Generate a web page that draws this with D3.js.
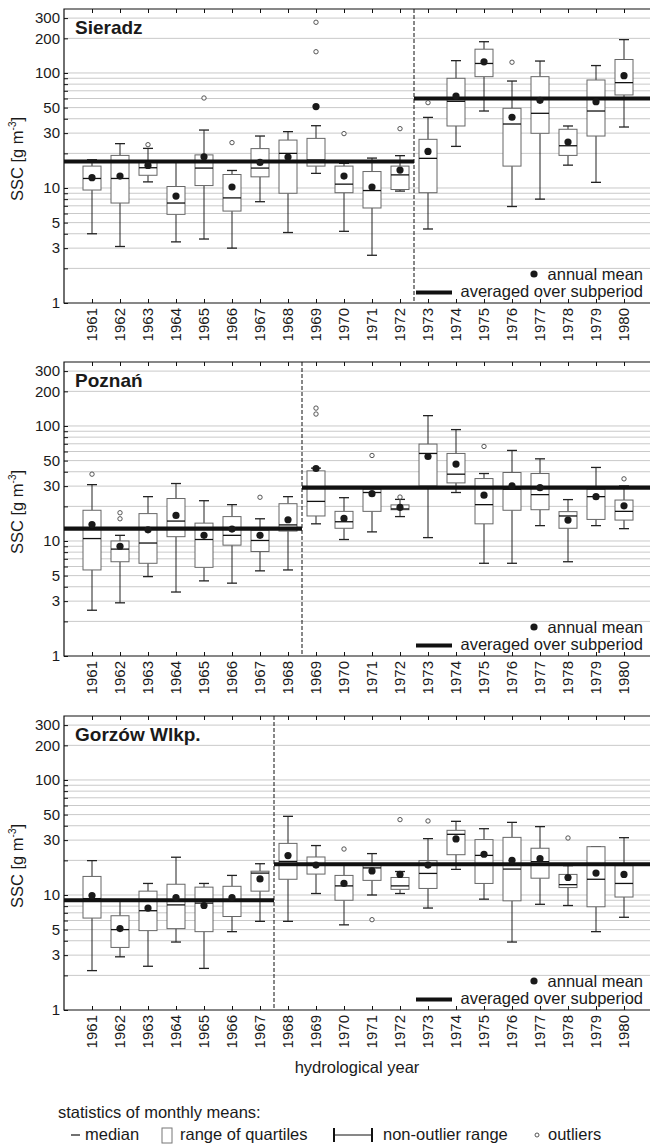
<!DOCTYPE html>
<html><head><meta charset="utf-8">
<script src="https://cdn.jsdelivr.net/npm/d3@7"></script>
<style>
body{margin:0;background:#fff}
svg{display:block}
text{font-family:"Liberation Sans",Arial,Helvetica,sans-serif;fill:#1a1a1a}
</style>
</head><body>
<svg id="c" width="650" height="1144"></svg>
<script>
// ---------- data ----------
const years = [1961,1962,1963,1964,1965,1966,1967,1968,1969,1970,1971,1972,1973,1974,1975,1976,1977,1978,1979,1980];
const yTickLabels = [1,3,5,10,30,50,100,200,300];
const gridValues = [2,3,4,5,6,7,8,9,10,20,30,40,50,60,70,80,90,100,200,300];
const stationNames = ["Sieradz","Poznań","Gorzów Wlkp."];

// Sieradz
const sieradzLow  = [4.0,3.1,11.3,3.4,3.6,3.0,7.6,4.1,13.4,4.2,2.6,9.4,4.4,23.0,46.7,6.9,8.0,15.8,11.2,33.9];
const sieradzQ1   = [9.6,7.4,12.9,5.9,10.5,6.3,12.5,9.0,15.5,9.1,6.7,9.7,9.1,34.6,92.9,15.5,29.9,19.2,28.3,64.4];
const sieradzMed  = [12.1,12.1,15.0,7.4,14.9,8.2,14.9,20.0,17.5,10.8,9.5,13.0,18.1,56.7,121,36.0,44.6,23.3,46.7,82.4];
const sieradzQ3   = [15.5,19.2,16.7,10.3,19.4,13.1,22.0,26.1,27.0,15.5,13.9,15.5,26.5,89.9,161,49.3,92.9,32.4,86.9,131];
const sieradzHigh = [17.6,24.3,22.1,16.9,31.9,14.2,28.3,30.9,34.8,16.4,18.2,19.1,41.1,128,187,85.1,127,34.6,116,195];
const sieradzMean = [12.3,12.7,15.7,8.5,18.7,10.2,16.7,18.6,51.0,12.7,10.2,14.3,20.8,63.1,125,41.2,57.8,25.1,56.3,94.8];
const sieradzOutliers = [[1963,23.8],[1965,60.6],[1966,24.8],[1969,276],[1969,153],[1970,29.7],[1972,32.8],[1973,55.2],[1976,124]];
const sieradzSplit = 1972.5;
const sieradzSubMeans = [17.0,60.0];

// Poznań
const poznanLow  = [2.5,2.9,4.9,3.6,4.5,4.3,5.5,5.6,14.1,10.3,12.0,16.3,10.7,26.4,6.4,6.4,13.6,6.6,13.6,12.8];
const poznanQ1   = [5.6,6.6,6.4,10.9,5.9,9.2,8.1,12.2,16.5,12.9,18.1,18.7,30.1,32.0,14.1,18.5,18.7,12.9,15.4,15.2];
const poznanMed  = [10.5,8.5,9.6,14.9,10.3,11.2,10.1,13.8,22.1,14.7,26.4,19.0,57.7,38.1,20.7,28.2,25.3,16.5,24.3,18.1];
const poznanQ3   = [18.5,10.0,17.3,23.4,14.3,16.3,12.4,21.1,40.7,18.1,28.2,20.6,69.6,57.7,34.9,39.4,38.6,18.0,28.2,22.7];
const poznanHigh = [30.9,11.2,24.3,31.6,22.4,20.7,15.6,24.3,43.0,23.8,29.1,23.0,123,93,38.6,61.3,51.8,22.9,43.6,30.1];
const poznanMean = [13.9,9.0,12.5,16.7,11.2,12.7,11.2,15.3,42.7,15.7,25.8,19.6,54.3,46.6,25.0,30.1,29.1,15.2,24.3,20.2];
const poznanOutliers = [[1961,38.1],[1962,17.6],[1962,15.6],[1967,24.0],[1969,143],[1969,127],[1971,55.4],[1972,24.1],[1975,66.4],[1980,34.7]];
const poznanSplit = 1968.5;
const poznanSubMeans = [12.8,29.1];

// Gorzów Wlkp.
const gorzowLow  = [2.2,2.9,2.4,3.9,2.3,4.8,5.9,5.9,10.3,5.5,10.0,10.3,7.7,16.7,9.2,3.9,8.3,8.1,4.8,6.4];
const gorzowQ1   = [6.3,3.5,4.9,5.1,4.8,6.5,10.8,13.7,15.2,9.0,13.4,11.2,11.4,22.4,12.6,8.9,14.0,11.6,7.9,9.6];
const gorzowMed  = [9.3,5.0,7.3,8.2,8.5,9.0,15.5,19.6,18.2,12.0,17.2,12.0,15.4,33.7,22.1,16.8,19.5,12.3,13.7,12.6];
const gorzowQ3   = [14.5,6.6,10.8,12.4,11.7,11.9,16.1,28.1,21.4,14.8,18.0,14.2,19.9,36.5,30.3,31.7,25.5,15.1,26.3,18.0];
const gorzowHigh = [19.9,9.0,12.6,21.3,12.6,14.8,18.7,48.3,26.9,18.2,22.9,16.0,30.9,43.7,37.7,42.8,39.3,18.0,26.3,31.5];
const gorzowMean = [9.9,5.1,7.7,9.5,8.1,9.5,13.8,22.0,18.2,12.6,16.2,15.1,18.2,30.7,22.6,20.0,20.7,14.2,15.5,15.1];
const gorzowOutliers = [[1970,25.1],[1971,6.1],[1972,45.2],[1973,44.0],[1978,31.3]];
const gorzowSplit = 1967.5;
const gorzowSubMeans = [9.0,18.5];

// ---------- build ----------
const stations = [
  {name:stationNames[0], low:sieradzLow, q1:sieradzQ1, med:sieradzMed, q3:sieradzQ3, high:sieradzHigh, mean:sieradzMean, out:sieradzOutliers, split:sieradzSplit, sub:sieradzSubMeans},
  {name:stationNames[1], low:poznanLow, q1:poznanQ1, med:poznanMed, q3:poznanQ3, high:poznanHigh, mean:poznanMean, out:poznanOutliers, split:poznanSplit, sub:poznanSubMeans},
  {name:stationNames[2], low:gorzowLow, q1:gorzowQ1, med:gorzowMed, q3:gorzowQ3, high:gorzowHigh, mean:gorzowMean, out:gorzowOutliers, split:gorzowSplit, sub:gorzowSubMeans}
];

const svg = d3.select("#c");
const X0 = 64, X1 = 650, H = 294;
const bottoms = [303, 656, 1010];
const x = d3.scaleLinear().domain([1960, 1981]).range([64, 652]);
const boxW = 18, capW = 10;

stations.forEach((s, i) => {
  const b = bottoms[i], t = b - H;
  const y = d3.scaleLog().domain([1, 360]).range([b, t]);
  const g = svg.append("g");
  const rows = years.map((yr, k) => ({yr, low:s.low[k], q1:s.q1[k], med:s.med[k], q3:s.q3[k], high:s.high[k], mean:s.mean[k]}));

  // grid
  g.append("g").selectAll("line").data(gridValues).join("line")
    .attr("x1", X0).attr("x2", X1)
    .attr("y1", d => y(d)).attr("y2", d => y(d))
    .attr("stroke", "#c9c9c9").attr("stroke-width", 1);

  // whiskers
  const wg = g.append("g").attr("stroke", "#222").attr("stroke-width", 1);
  wg.selectAll("line.wl").data(rows).join("line").attr("class","wl")
    .attr("x1", d => x(d.yr)).attr("x2", d => x(d.yr))
    .attr("y1", d => y(d.low)).attr("y2", d => y(d.q1));
  wg.selectAll("line.wh").data(rows).join("line").attr("class","wh")
    .attr("x1", d => x(d.yr)).attr("x2", d => x(d.yr))
    .attr("y1", d => y(d.q3)).attr("y2", d => y(d.high));
  wg.selectAll("line.cl").data(rows).join("line").attr("class","cl")
    .attr("x1", d => x(d.yr) - capW/2).attr("x2", d => x(d.yr) + capW/2)
    .attr("y1", d => y(d.low)).attr("y2", d => y(d.low)).attr("stroke-width", 1.3);
  wg.selectAll("line.ch").data(rows).join("line").attr("class","ch")
    .attr("x1", d => x(d.yr) - capW/2).attr("x2", d => x(d.yr) + capW/2)
    .attr("y1", d => y(d.high)).attr("y2", d => y(d.high)).attr("stroke-width", 1.3);

  // boxes
  g.append("g").selectAll("rect").data(rows).join("rect")
    .attr("x", d => x(d.yr) - boxW/2).attr("width", boxW)
    .attr("y", d => y(d.q3)).attr("height", d => y(d.q1) - y(d.q3))
    .attr("fill", "#fff").attr("stroke", "#666").attr("stroke-width", 1);

  // medians
  g.append("g").selectAll("line").data(rows).join("line")
    .attr("x1", d => x(d.yr) - boxW/2).attr("x2", d => x(d.yr) + boxW/2)
    .attr("y1", d => y(d.med)).attr("y2", d => y(d.med))
    .attr("stroke", "#111").attr("stroke-width", 1.3);

  // subperiod means
  const subs = [{a:1960, b2:s.split, v:s.sub[0]}, {a:s.split, b2:1981, v:s.sub[1]}];
  g.append("g").selectAll("line").data(subs).join("line")
    .attr("x1", d => Math.max(X0, x(d.a))).attr("x2", d => Math.min(X1, x(d.b2)))
    .attr("y1", d => y(d.v)).attr("y2", d => y(d.v))
    .attr("stroke", "#111").attr("stroke-width", 4.2);

  // split dashed line
  g.append("line")
    .attr("x1", x(s.split)).attr("x2", x(s.split)).attr("y1", t).attr("y2", b)
    .attr("stroke", "#111").attr("stroke-width", 1).attr("stroke-dasharray", "4,2");

  // annual means
  g.append("g").selectAll("circle").data(rows).join("circle")
    .attr("cx", d => x(d.yr)).attr("cy", d => y(d.mean)).attr("r", 3.6)
    .attr("fill", "#1a1a1a");

  // outliers
  g.append("g").selectAll("circle").data(s.out).join("circle")
    .attr("cx", d => x(d[0])).attr("cy", d => y(d[1])).attr("r", 2.2)
    .attr("fill", "#fff").attr("stroke", "#444").attr("stroke-width", 0.9);

  // axes
  const yAxis = d3.axisLeft(y).tickValues([1].concat(gridValues)).tickSize(-4).tickPadding(4)
    .tickFormat(d => yTickLabels.includes(d) ? String(d) : "");
  const ya = g.append("g").attr("transform", `translate(${X0},0)`).call(yAxis);
  ya.select(".domain").remove();
  ya.selectAll("text").attr("font-size", 15).style("font-family", '"Liberation Sans",Arial,sans-serif').attr("fill", "#1a1a1a");
  ya.selectAll("line").attr("stroke", "#111");

  const xb = g.append("g").attr("transform", `translate(0,${b})`)
    .call(d3.axisBottom(x).tickValues(years).tickSize(-4).tickFormat(""));
  xb.select(".domain").remove();
  xb.selectAll("line").attr("stroke", "#111");
  const xt = g.append("g").attr("transform", `translate(0,${t})`)
    .call(d3.axisTop(x).tickValues(years).tickSize(-4).tickFormat(""));
  xt.select(".domain").remove();
  xt.selectAll("line").attr("stroke", "#111");

  // frame
  g.append("path")
    .attr("d", `M${X1},${t}H${X0}V${b}H${X1}`)
    .attr("fill", "none").attr("stroke", "#111").attr("stroke-width", 1.2);

  // year labels
  g.append("g").selectAll("text").data(years).join("text")
    .attr("transform", d => `translate(${x(d)},${b + 5}) rotate(-90)`)
    .attr("text-anchor", "end").attr("dy", "0.35em")
    .attr("font-size", 15).text(d => d);

  // station title
  g.append("text").attr("x", 75).attr("y", t + 25)
    .attr("font-size", 19).attr("font-weight", "bold").text(s.name);

  // y axis title
  const yt = g.append("text")
    .attr("transform", `translate(23,${(t + b) / 2 + 3}) rotate(-90)`)
    .attr("text-anchor", "middle").attr("font-size", 16.5);
  yt.append("tspan").text("SSC [g m");
  yt.append("tspan").attr("font-size", 10).attr("dy", -7).text("-3");
  yt.append("tspan").attr("dy", 7).text("]");

  // panel legend
  g.append("circle").attr("cx", 534).attr("cy", b - 29).attr("r", 3.6).attr("fill", "#1a1a1a");
  g.append("text").attr("x", 643).attr("y", b - 23.5).attr("text-anchor", "end")
    .attr("font-size", 16.5).text("annual mean");
  g.append("line").attr("x1", 416).attr("x2", 452).attr("y1", b - 10.5).attr("y2", b - 10.5)
    .attr("stroke", "#111").attr("stroke-width", 4);
  g.append("text").attr("x", 643).attr("y", b - 6.5).attr("text-anchor", "end")
    .attr("font-size", 16.5).text("averaged over subperiod");
});

// x axis title
svg.append("text").attr("x", 357).attr("y", 1073).attr("text-anchor", "middle")
  .attr("font-size", 16.5).text("hydrological year");

// bottom legend
const lg = svg.append("g");
lg.append("text").attr("x", 58).attr("y", 1118).attr("font-size", 16.5).text("statistics of monthly means:");
lg.append("line").attr("x1", 71).attr("x2", 80).attr("y1", 1135).attr("y2", 1135).attr("stroke", "#111").attr("stroke-width", 1.2);
lg.append("text").attr("x", 85).attr("y", 1140).attr("font-size", 16.5).text("median");
lg.append("rect").attr("x", 162).attr("y", 1128).attr("width", 10).attr("height", 15)
  .attr("fill", "#fff").attr("stroke", "#777").attr("stroke-width", 1);
lg.append("text").attr("x", 180).attr("y", 1140).attr("font-size", 16.5).text("range of quartiles");
lg.append("line").attr("x1", 334).attr("x2", 372).attr("y1", 1135).attr("y2", 1135).attr("stroke", "#111").attr("stroke-width", 1);
lg.append("line").attr("x1", 334).attr("x2", 334).attr("y1", 1128).attr("y2", 1142).attr("stroke", "#111").attr("stroke-width", 2);
lg.append("line").attr("x1", 372).attr("x2", 372).attr("y1", 1128).attr("y2", 1142).attr("stroke", "#111").attr("stroke-width", 2);
lg.append("text").attr("x", 383).attr("y", 1140).attr("font-size", 16.5).text("non-outlier range");
lg.append("circle").attr("cx", 537).attr("cy", 1135).attr("r", 2).attr("fill", "#fff").attr("stroke", "#444").attr("stroke-width", 0.9);
lg.append("text").attr("x", 548).attr("y", 1140).attr("font-size", 16.5).text("outliers");
</script>
</body></html>
